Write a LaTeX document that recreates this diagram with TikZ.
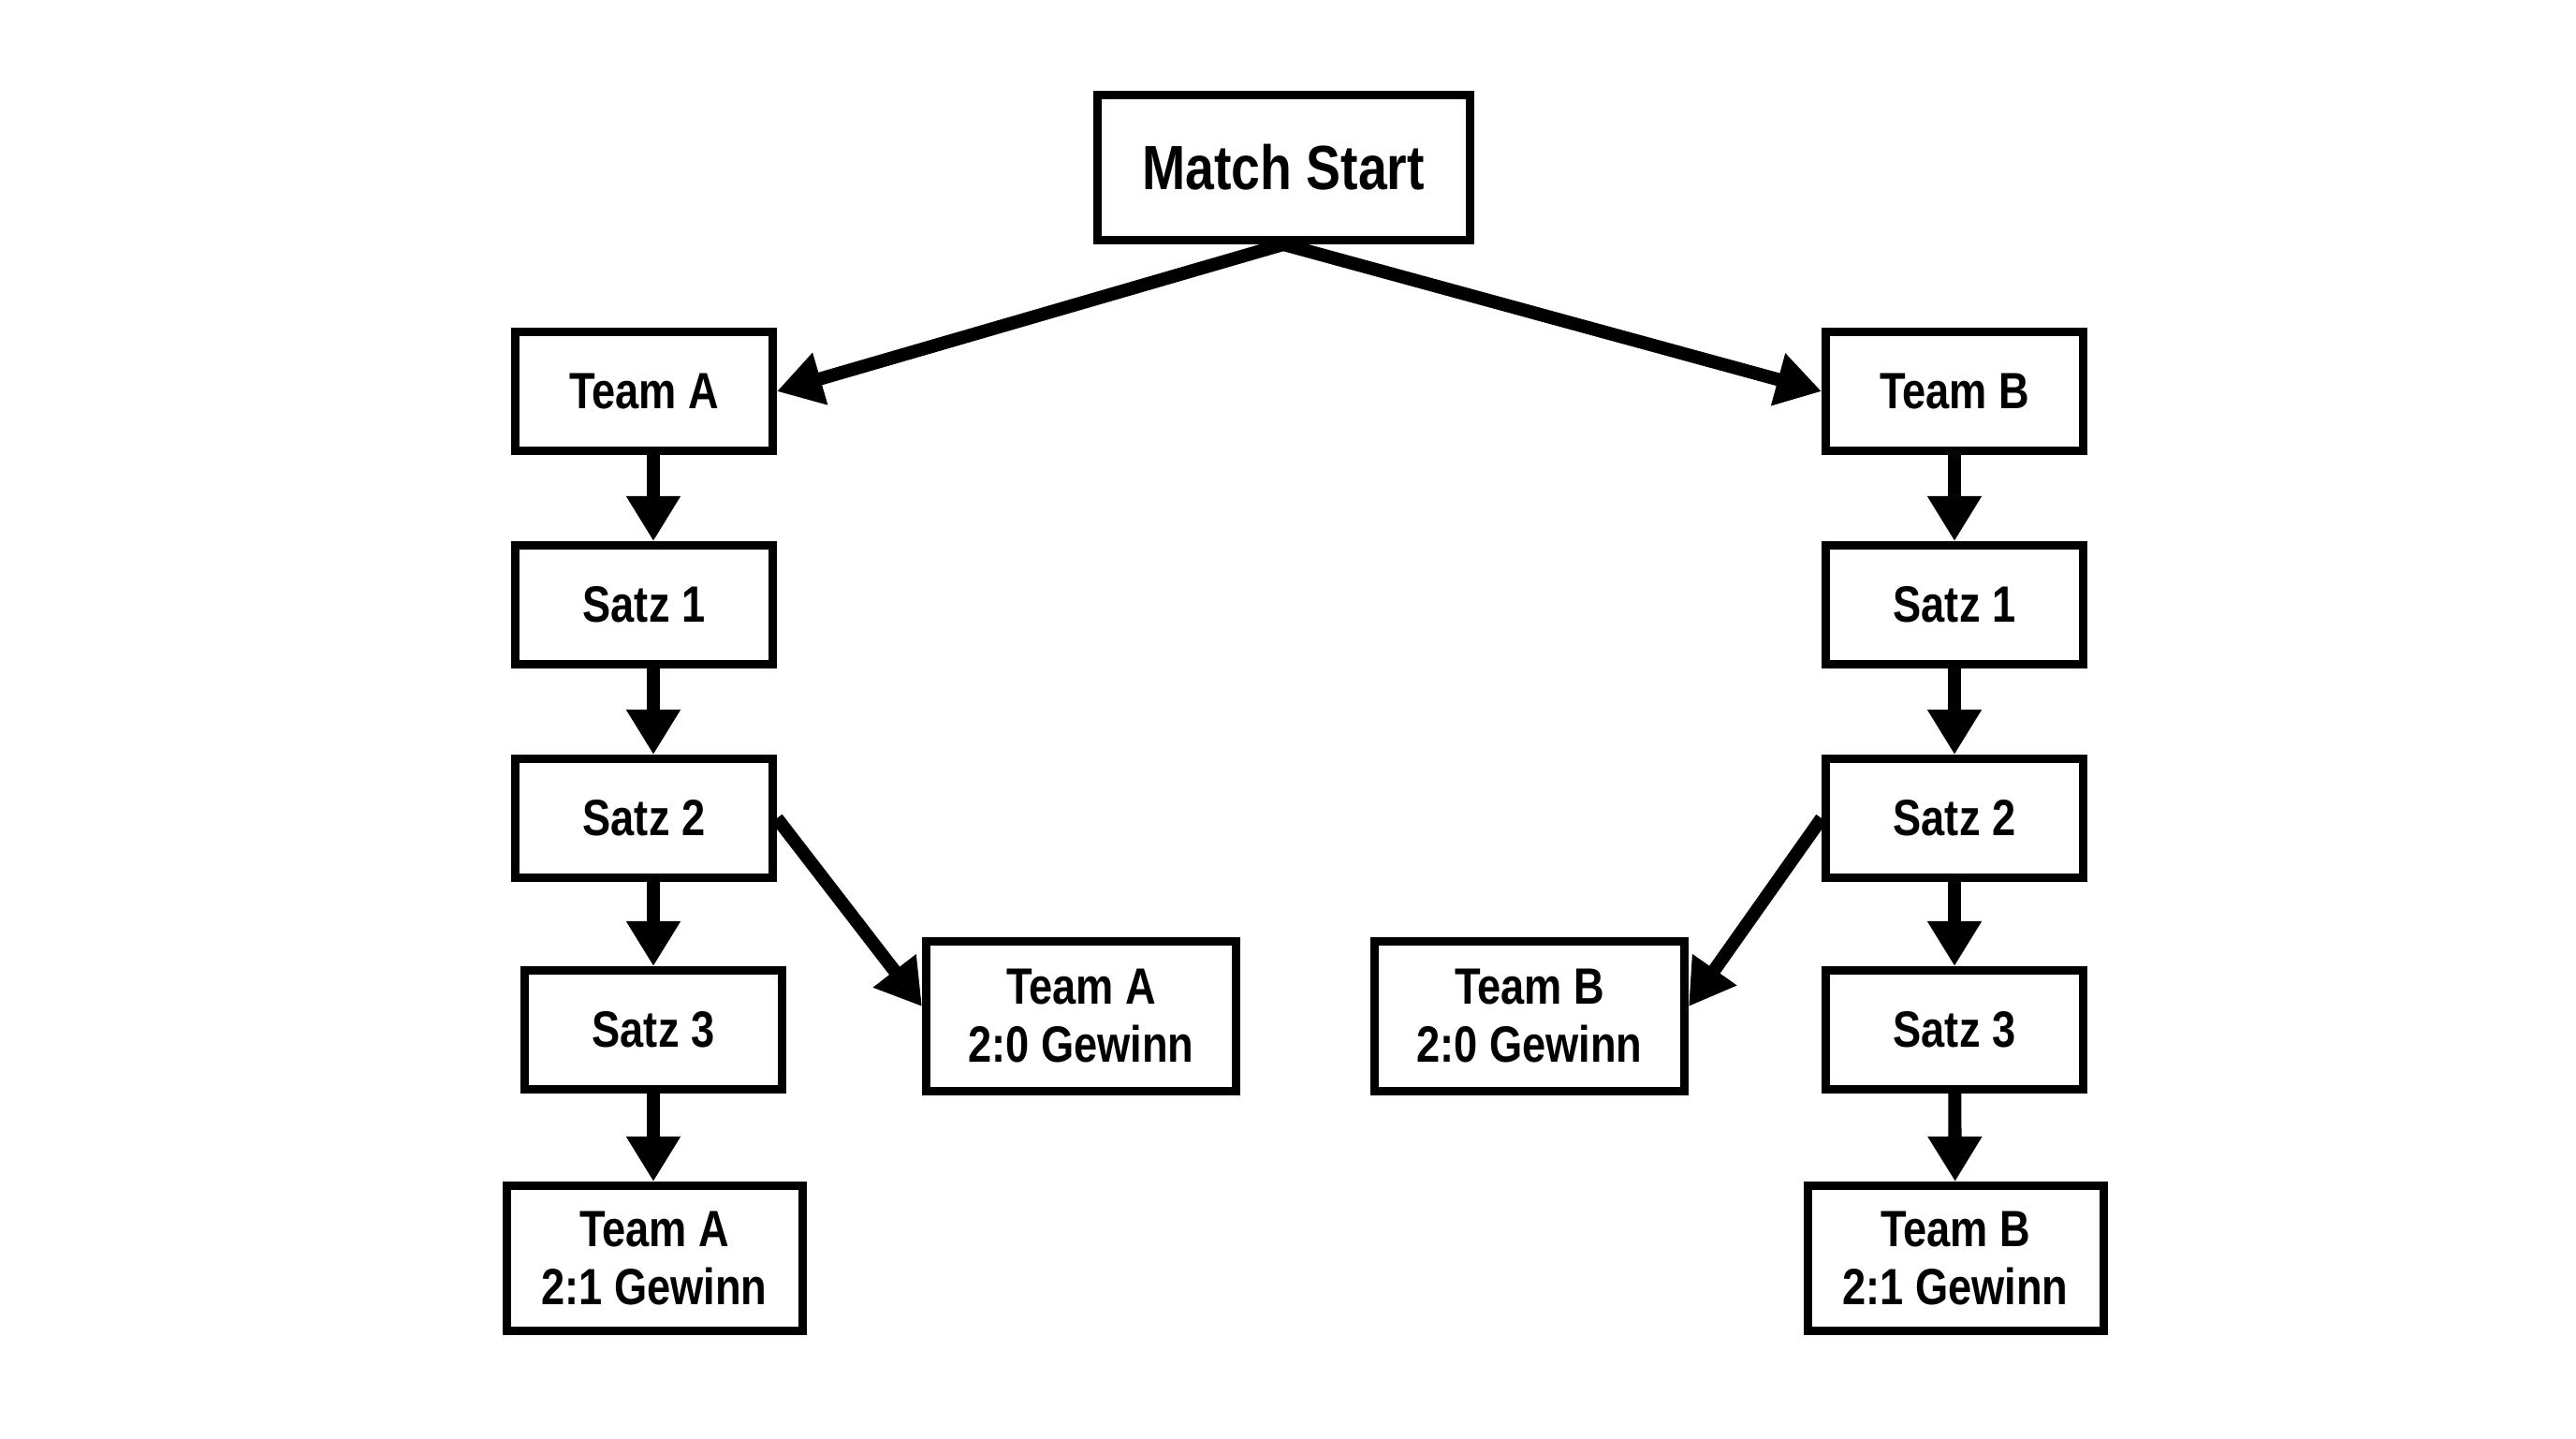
\documentclass[tikz,border=0pt]{standalone}
\usepackage{fontspec}
\setmainfont[FakeStretch=0.83]{Liberation Sans}
\usepackage{tikz}
\usetikzlibrary{positioning}
\usetikzlibrary{calc}
\usetikzlibrary{arrows.meta}

\begin{document}
\begin{tikzpicture}[
  box/.style={draw,line width=2.56pt,minimum width=2.75cm,minimum height=1.27cm,
    inner sep=0pt,align=center,font=\fontsize{15.5}{17.6}\selectfont\bfseries},
  wide/.style={box,minimum width=3.16cm,minimum height=1.55cm},
  flow/.style={line width=4pt,-{Triangle[length=13.7pt,width=15.6pt]}}
  ]
  \useasboundingbox (0,0) rectangle (27.52,-15.36);
  \node (start)     [box,minimum width=3.98cm,minimum height=1.55cm,
                     font=\fontsize{19}{22}\selectfont\bfseries] at (13.71,-1.79) {Match Start};
  % left side
  \node (teamA)     [box] at (6.88,-4.18)  {Team A};
  \node (satzEinsA) [box] at (6.88,-6.46)  {Satz 1};
  \node (satzZweiA) [box] at (6.88,-8.74)  {Satz 2};
  \node (satzDreiA) [box] at (6.98,-11.00) {Satz 3};
  \node (einsA)     [wide] at (6.99,-13.44) {Team A\\2:1 Gewinn};
  \node (nullA)     [wide,minimum width=3.31cm,minimum height=1.6cm] at (11.55,-10.85) {Team A\\2:0 Gewinn};
  % right side
  \node (teamB)     [box] at (20.88,-4.18)  {Team B};
  \node (satzEinsB) [box] at (20.88,-6.46)  {Satz 1};
  \node (satzZweiB) [box] at (20.88,-8.74)  {Satz 2};
  \node (satzDreiB) [box] at (20.88,-11.00) {Satz 3};
  \node (einsB)     [wide] at (20.89,-13.44) {Team B\\2:1 Gewinn};
  \node (nullB)     [wide,minimum width=3.31cm,minimum height=1.6cm] at (16.34,-10.85) {Team B\\2:0 Gewinn};

  \draw [flow] (start.south) -- (teamA.east);
  \draw [flow] (start.south) -- (teamB.west);
  \draw [flow] (teamA.south -| satzDreiA.north) -- (satzEinsA.north -| satzDreiA.north);
  \draw [flow] (satzEinsA.south -| satzDreiA.north) -- (satzZweiA.north -| satzDreiA.north);
  \draw [flow] (satzZweiA.south -| satzDreiA.north) -- (satzDreiA.north);
  \draw [flow] (satzDreiA.south) -- (einsA.north -| satzDreiA.south);
  \draw [flow] (satzZweiA.east) -- ([yshift=1mm]nullA.west);
  \draw [flow] (teamB) -- (satzEinsB);
  \draw [flow] (satzEinsB) -- (satzZweiB);
  \draw [flow] (satzZweiB) -- (satzDreiB);
  \draw [flow] (satzDreiB) -- (einsB);
  \draw [flow] (satzZweiB.west) -- ([yshift=1mm]nullB.east);
\end{tikzpicture}
\end{document}
